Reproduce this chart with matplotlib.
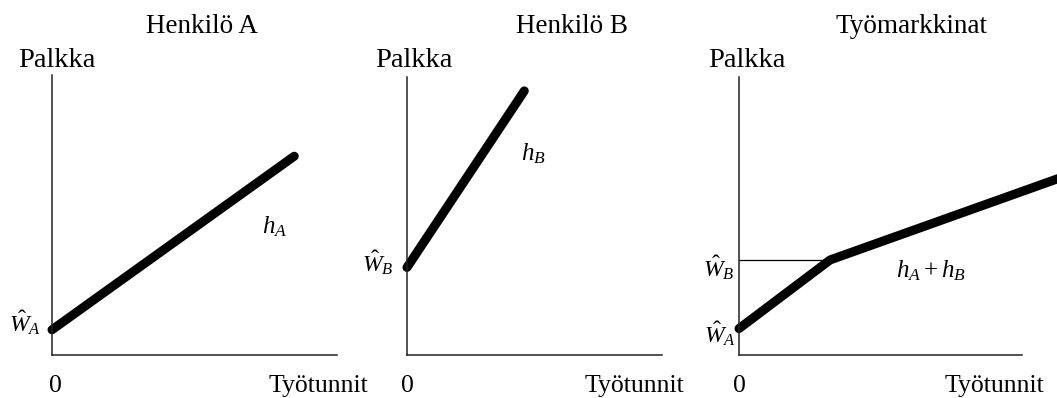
import matplotlib
matplotlib.use("Agg")
import matplotlib.pyplot as plt

plt.rcParams["font.family"] = ["Liberation Serif", "DejaVu Serif"]
plt.rcParams["mathtext.fontset"] = "custom"
plt.rcParams["mathtext.rm"] = "Liberation Serif"
plt.rcParams["mathtext.it"] = "Liberation Serif:italic"

# Labour supply of person A, person B and the combined market
titles = ["Henkilö A", "Henkilö B", "Työmarkkinat"]
y_label = "Palkka"
x_label = "Työtunnit"

hours_A = [0.0, 8.5]
wage_A = [0.9, 7.1]

hours_B = [0.0, 4.6]
wage_B = [3.15, 9.5]

hours_M = [0.0, 3.22, 11.7]
wage_M = [0.95, 3.42, 6.5]

W, H = 1057, 398
fig = plt.figure(figsize=(W / 100, H / 100), dpi=100)


def fx(px):
    return px / W


def fy(py):
    return 1 - py / H


def make_axes(left, right, top, bottom):
    ax = fig.add_axes([fx(left), fy(bottom), fx(right - left), (bottom - top) / H])
    ax.set_xlim(0, 10)
    ax.set_ylim(0, 10)
    for s in ("top", "right"):
        ax.spines[s].set_visible(False)
    for s in ("left", "bottom"):
        ax.spines[s].set_linewidth(1.1)
        ax.spines[s].set_color("#222222")
    ax.set_xticks([])
    ax.set_yticks([])
    ax.patch.set_alpha(0)
    return ax


axA = make_axes(52, 337, 75, 355)
axB = make_axes(407, 662, 77, 355)
axM = make_axes(739, 1022, 77, 355)

curve_kw = dict(color="black", lw=6.5, solid_capstyle="round",
                solid_joinstyle="round", clip_on=False)
axA.plot(hours_A, wage_A, **curve_kw)
axB.plot(hours_B, wage_B, **curve_kw)
axM.plot(hours_M, wage_M, **curve_kw)
axM.plot([0, hours_M[1]], [wage_M[1], wage_M[1]], color="black", lw=0.9)

# Titles, axis names and origins
title_x = [202, 572, 912]
palkka_x = [18, 375, 708]
zero_x = [55, 407, 739]
tyo_x = [269, 585, 945]
for i in range(3):
    fig.text(fx(title_x[i]), fy(33), titles[i], ha="center", va="baseline", fontsize=19.5)
    fig.text(fx(palkka_x[i]), fy(67), y_label, ha="left", va="baseline", fontsize=20.5)
    fig.text(fx(zero_x[i]), fy(392), "0", ha="center", va="baseline", fontsize=18.5)
    fig.text(fx(tyo_x[i]), fy(392), x_label, ha="left", va="baseline", fontsize=18.5)

# Curve names
fig.text(fx(262), fy(233), r"$h_A$", ha="left", va="baseline", fontsize=18)
fig.text(fx(521), fy(160), r"$h_B$", ha="left", va="baseline", fontsize=18)
fig.text(fx(896), fy(277), r"$h_A + h_B$", ha="left", va="baseline", fontsize=18)

# Reservation wage labels beside the intercepts
wage_labels = [
    (41, 332, r"$\hat{W}_A$"),
    (394, 272, r"$\hat{W}_B$"),
    (735, 277, r"$\hat{W}_B$"),
    (736, 343, r"$\hat{W}_A$"),
]
for x, y, text in wage_labels:
    fig.text(fx(x), fy(y), text, ha="right", va="baseline", fontsize=17)

fig.savefig("out.png", dpi=100)
